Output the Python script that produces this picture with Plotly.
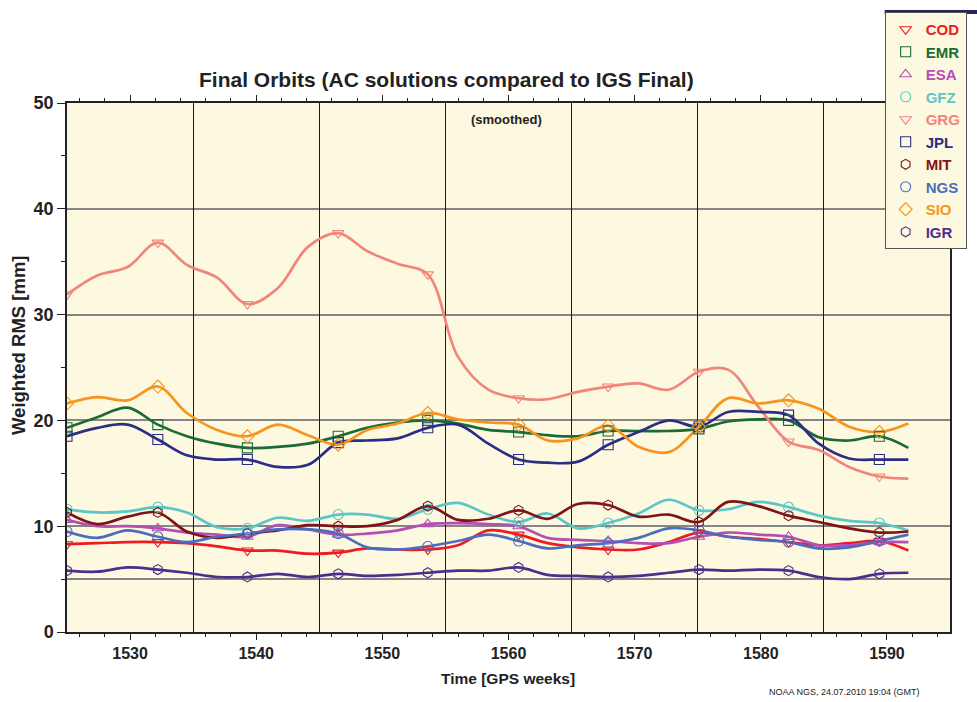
import plotly.graph_objects as go

# GPS weeks at which each smoothed series is sampled
weeks = [1525.0, 1527.4, 1529.8, 1532.2, 1534.5, 1536.9, 1539.3, 1541.7, 1544.1, 1546.5,
         1548.8, 1551.2, 1553.6, 1556.0, 1558.4, 1560.8, 1563.1, 1565.5, 1567.9, 1570.3,
         1572.7, 1575.1, 1577.4, 1579.8, 1582.2, 1584.6, 1587.0, 1589.4, 1591.7]

# Weighted RMS [mm] of each analysis centre
cod = [8.3, 8.4, 8.5, 8.5, 8.4, 8.1, 7.7, 7.7, 7.4, 7.5, 7.9, 7.8, 7.8, 8.2, 9.6, 9.2,
       8.4, 8.0, 7.8, 7.8, 8.5, 9.4, 9.0, 8.8, 8.5, 8.2, 8.4, 8.6, 7.7]
emr = [19.3, 20.3, 21.2, 19.6, 18.5, 17.8, 17.4, 17.5, 17.8, 18.5, 19.3, 19.8, 20.0, 19.7,
       19.1, 18.9, 18.6, 18.5, 19.0, 19.0, 19.0, 19.2, 19.9, 20.1, 20.0, 18.4, 18.1, 18.5, 17.4]
esa = [10.6, 10.0, 10.0, 9.8, 9.4, 9.2, 9.0, 10.1, 9.7, 9.2, 9.3, 9.6, 10.2, 10.3, 10.2,
       10.0, 8.9, 8.7, 8.6, 8.4, 8.4, 9.0, 9.4, 9.2, 9.0, 8.2, 8.2, 8.5, 8.5]
gfz = [11.6, 11.3, 11.4, 11.8, 11.3, 9.9, 9.8, 10.8, 10.5, 11.1, 11.1, 10.7, 11.6, 12.2,
       11.1, 10.4, 11.2, 9.8, 10.3, 11.2, 12.5, 11.5, 11.6, 12.3, 11.8, 11.0, 10.5, 10.3, 9.6]
grg = [31.9, 33.7, 34.5, 36.8, 34.7, 33.5, 31.0, 32.5, 36.4, 37.7, 36.0, 34.8, 33.8, 26.0,
       22.9, 22.1, 22.0, 22.7, 23.2, 23.5, 22.9, 24.6, 24.8, 21.3, 18.0, 17.2, 15.6, 14.7, 14.5]
jpl = [18.5, 19.3, 19.6, 18.2, 16.7, 16.3, 16.3, 15.6, 15.8, 17.9, 18.1, 18.3, 19.3, 19.6,
       17.8, 16.3, 16.0, 16.1, 17.7, 18.9, 20.0, 19.4, 20.8, 20.8, 20.5, 17.8, 16.4, 16.3, 16.3]
mit = [11.3, 10.2, 10.9, 11.3, 9.5, 8.9, 9.3, 9.6, 10.1, 10.0, 10.0, 10.6, 11.9, 10.6,
       10.7, 11.5, 10.7, 12.1, 12.0, 10.9, 11.1, 10.4, 12.3, 11.9, 11.0, 10.4, 9.8, 9.4, 9.5]
ngs = [9.5, 8.9, 9.6, 9.0, 8.5, 9.0, 9.3, 9.7, 9.7, 9.3, 8.0, 7.8, 8.1, 8.6, 9.2, 8.6,
       7.9, 8.2, 8.4, 8.9, 9.8, 9.6, 9.0, 8.7, 8.5, 7.9, 8.0, 8.6, 9.2]
sio = [21.6, 22.2, 21.9, 23.2, 20.7, 19.1, 18.5, 19.6, 18.6, 17.7, 19.1, 19.7, 20.7, 20.1,
       19.8, 19.6, 18.1, 18.3, 19.5, 17.5, 17.0, 19.4, 22.1, 21.6, 21.9, 21.1, 19.4, 18.9, 19.7]
igr = [5.8, 5.7, 6.1, 5.9, 5.6, 5.2, 5.2, 5.5, 5.2, 5.5, 5.3, 5.4, 5.6, 5.8, 5.8, 6.1,
       5.4, 5.3, 5.2, 5.3, 5.6, 5.9, 5.8, 5.9, 5.8, 5.2, 5.0, 5.5, 5.6]

centres = ["COD", "EMR", "ESA", "GFZ", "GRG", "JPL", "MIT", "NGS", "SIO", "IGR"]
values = [cod, emr, esa, gfz, grg, jpl, mit, ngs, sio, igr]
colors = ["#ED1C24", "#1B6B35", "#B44FB4", "#5CC6C6", "#F2857B",
          "#2B2E83", "#7D1518", "#4A6DBF", "#F7941D", "#4F2D8A"]
symbols = ["triangle-down-open", "square-open", "triangle-up-open", "circle-open",
           "triangle-down-open", "square-open", "hexagon-open", "circle-open",
           "diamond-open", "hexagon-open"]

MARKER_STEP = 3          # a symbol on every third sample
REF_LEVEL = 5            # reference level line [mm]

PLOT_BG = "#FCF9E0"
SANS = "Liberation Sans, Arial, sans-serif"
INK = "#222"

LEG_X = 0.926
LEG_Y = 1.172

fig = go.Figure()

for name, vals, col in zip(centres, values, colors):
    fig.add_trace(go.Scatter(
        x=weeks, y=vals, mode="lines", showlegend=False, hoverinfo="skip",
        line=dict(color=col, width=2.7, shape="spline", smoothing=1.0),
        xaxis="x", yaxis="y"))

for name, vals, col, sym in zip(centres, values, colors, symbols):
    fig.add_trace(go.Scatter(
        x=weeks[::MARKER_STEP], y=vals[::MARKER_STEP], mode="markers",
        name=f"<span style='color:{col}'>{name}</span>",
        marker=dict(symbol=sym, size=10, color=col, line=dict(width=1.1, color=col)),
        xaxis="x2", yaxis="y"))

fig.add_hline(y=REF_LEVEL, line=dict(color="#858585", width=2), layer="below")

fig.update_layout(
    width=977, height=702,
    paper_bgcolor="white", plot_bgcolor=PLOT_BG,
    margin=dict(l=67, r=27, t=103, b=70, autoexpand=False),
    font=dict(family=SANS, color=INK),
    xaxis=dict(
        range=[1525, 1595], tick0=1530, dtick=10, ticks="outside", ticklen=6,
        tickwidth=1, tickcolor=INK, showline=True, linecolor=INK, linewidth=1.5,
        mirror="ticks", showgrid=False, zeroline=False,
        tickfont=dict(family=SANS, size=16, weight="bold", color=INK),
        minor=dict(tick0=1530, dtick=2, ticks="outside", ticklen=3, tickcolor=INK,
                   showgrid=False)),
    xaxis2=dict(
        matches="x", overlaying="x", tick0=1535, dtick=10, showgrid=True,
        gridcolor="#1a1a1a", gridwidth=1, showticklabels=False, ticks="",
        showline=False, zeroline=False),
    yaxis=dict(
        range=[0, 50], dtick=10, ticks="outside", ticklen=8, tickwidth=1,
        tickcolor=INK, showline=True, linecolor=INK, linewidth=1.5, mirror=True,
        showgrid=True, gridcolor="#858585", gridwidth=2, zeroline=False,
        tickfont=dict(family=SANS, size=18, weight="bold", color=INK),
        minor=dict(dtick=5, ticks="outside", ticklen=4, tickcolor=INK, showgrid=False)),
    legend=dict(
        x=LEG_X, y=LEG_Y, xanchor="left", yanchor="top",
        bgcolor=PLOT_BG, bordercolor="#555", borderwidth=1,
        font=dict(family=SANS, size=15, weight="bold"),
        itemwidth=30, tracegroupgap=0, entrywidth=80),
    showlegend=True,
)

# heavy top rule on the legend box
fig.add_shape(type="line", xref="paper", yref="paper", x0=LEG_X, x1=1.05,
              y0=LEG_Y, y1=LEG_Y, line=dict(color="#23235E", width=4))


def label(text, x, y, size, angle=0, weight="bold"):
    fig.add_annotation(text=text, xref="paper", yref="paper", x=x, y=y,
                       xanchor="center", yanchor="middle", textangle=angle,
                       showarrow=False,
                       font=dict(family=SANS, size=size, weight=weight, color=INK))


label("Final Orbits (AC solutions compared to IGS Final)", 0.430, 1.0435, 21)
label("(smoothed)", 0.498, 0.968, 13)
label("Weighted RMS [mm]", -0.0555, 0.5425, 18.5, angle=-90)
label("Time [GPS weeks]", 0.499, -0.087, 15.5)
label("NOAA NGS, 24.07.2010 19:04 (GMT)", 0.881, -0.1134, 9, weight="normal")

fig.write_html("out.html")
